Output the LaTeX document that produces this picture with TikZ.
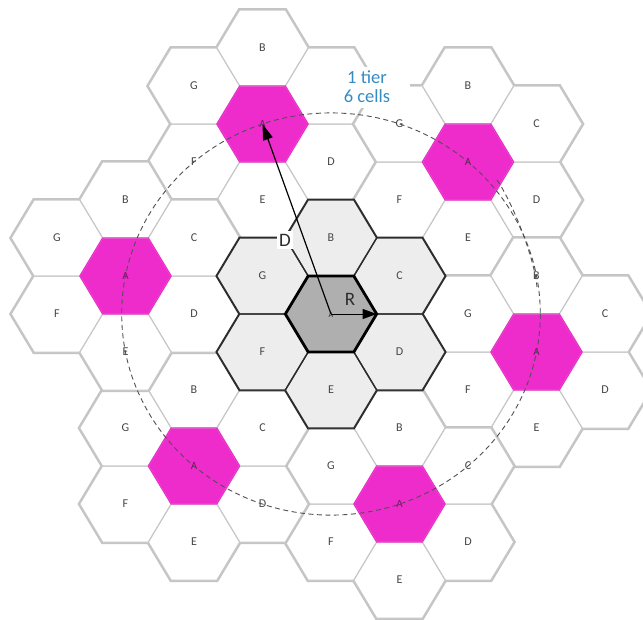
\documentclass[tikz,border=0pt]{standalone}
\usepackage{fontspec}
\setmainfont{Carlito}
\usetikzlibrary{arrows.meta}
\definecolor{pinkA}{RGB}{238,44,204}
\definecolor{cellline}{RGB}{196,196,196}
\definecolor{cellthinc}{RGB}{200,200,200}
\definecolor{ringfill}{RGB}{237,237,237}
\definecolor{hubfill}{RGB}{175,175,175}
\definecolor{darkline}{RGB}{45,45,45}
\definecolor{tierblue}{RGB}{52,140,195}
\definecolor{lettergray}{RGB}{70,70,70}
\definecolor{circgray}{RGB}{80,80,80}
\tikzset{
  hexcell/.pic={\path[pic actions] (45.67,0) -- (22.83,-38) -- (-22.83,-38) -- (-45.67,0) -- (-22.83,38) -- (22.83,38) -- cycle;},
  cellthick/.style={draw=cellline, line width=4pt},
  cellthin/.style={draw=cellthinc, line width=1pt},
  hubthick/.style={draw=darkline, line width=2.6pt},
  hubthin/.style={draw=darkline, line width=1.3pt},
  lettr/.style={text=lettergray, font=\fontsize{12}{13}\selectfont, inner sep=0pt},
  lettrA/.style={text=pinkA!50!black, font=\fontsize{11}{12}\selectfont, inner sep=0pt},
  biglab/.style={text=darkline, font=\fontsize{19}{20}\selectfont},
  circline/.style={draw=circgray, line width=0.9pt, dash pattern=on 5pt off 3.5pt},
  arrowline/.style={draw=black, line width=1.2pt}
}
\begin{document}
\begin{tikzpicture}[x=1pt,y=-1pt]
\useasboundingbox (0,0) rectangle (643,619);
\fill[white] (0,0) rectangle (643,619);
% outer clusters
\foreach \ci/\cj in {-1/-5, 2/-4, 3/1, 1/5, -2/4, -3/-1}{
  \foreach \di/\dj in {0/0,0/-2,1/-1,1/1,0/2,-1/1,-1/-1}
    \pic[cellthick] at ({331+68.5*((\ci)+(\di))},{314+38*((\cj)+(\dj))}) {hexcell};
  \foreach \di/\dj/\fc in {0/0/pinkA,0/-2/white,1/-1/white,1/1/white,0/2/white,-1/1/white,-1/-1/white}
    \pic[fill=\fc] at ({331+68.5*((\ci)+(\di))},{314+38*((\cj)+(\dj))}) {hexcell};
  \foreach \di/\dj in {0/-2,1/-1,1/1,0/2,-1/1,-1/-1}
    \pic[cellthin] at ({331+68.5*((\ci)+(\di))},{314+38*((\cj)+(\dj))}) {hexcell};
  \pic[draw=pinkA, line width=1.2pt] at ({331+68.5*(\ci)},{314+38*(\cj)}) {hexcell};
}
% central cluster
\foreach \di/\dj in {0/0,0/-2,1/-1,1/1,0/2,-1/1,-1/-1}
  \pic[hubthick] at ({331+68.5*(\di)},{314+38*(\dj)}) {hexcell};
\foreach \di/\dj/\fc in {0/0/hubfill,0/-2/ringfill,1/-1/ringfill,1/1/ringfill,0/2/ringfill,-1/1/ringfill,-1/-1/ringfill}
  \pic[fill=\fc] at ({331+68.5*(\di)},{314+38*(\dj)}) {hexcell};
\foreach \di/\dj in {0/-2,1/-1,1/1,0/2,-1/1,-1/-1}
  \pic[hubthin] at ({331+68.5*(\di)},{314+38*(\dj)}) {hexcell};
\pic[draw=black, line width=2.8pt] at (331,314) {hexcell};
% labels
\def\skipname{tC}
\foreach \ci/\cj/\cn in {-1/-5/t, 2/-4/ur, 3/1/r, 1/5/b, -2/4/bl, -3/-1/l}{
  \foreach \di/\dj/\lab in {0/-2/B,1/-1/C,1/1/D,0/2/E,-1/1/F,-1/-1/G}{
    \edef\curname{\cn\lab}
    \ifx\curname\skipname\else
      \node[lettr] (\cn\lab) at ({331+68.5*((\ci)+(\di))},{314+38*((\cj)+(\dj))}) {\lab};
    \fi
  }
  \node[lettrA] (\cn A) at ({331+68.5*(\ci)},{314+38*(\cj)}) {A};
}
\foreach \di/\dj/\lab in {0/-2/B,1/-1/C,1/1/D,0/2/E,-1/1/F,-1/-1/G}
  \node[lettr] (c\lab) at ({331+68.5*(\di)},{314+38*(\dj)}) {\lab};
\node[text=darkline, font=\fontsize{8}{9}\selectfont, inner sep=0pt] (cA) at (331,315) {A};
% tier text
\node[fill=white, minimum width=86pt, minimum height=41pt, inner sep=0pt, align=center,
      text=tierblue, font=\fontsize{18.5}{19}\selectfont] (tier) at (367,87) {1 tier\\6 cells};
% reuse circle
\coordinate (hub) at (331,314);
\draw[circline] (hub) ellipse [x radius=209.3, y radius=201.1];
\coordinate (arcS) at (497,180);
\coordinate (arcE) at (537,287);
\draw[circline] (arcS) .. controls (511,200) and (534,255) .. (arcE);
% arrows
\coordinate (tAc) at (262.5,124);
\coordinate (hubR) at (376.67,314);
\draw[arrowline, -{Triangle[length=16pt, width=10pt]}] (hub) -- (tAc);
\draw[arrowline, line width=1pt, -{Triangle[length=14pt, width=10pt]}] (hub) -- (hubR);
\node[biglab, fill=white, inner sep=2.5pt] (Dlab) at (285,240) {D};
\node[biglab, inner sep=0pt] (Rlab) at (350,299) {R};
\end{tikzpicture}
\end{document}
